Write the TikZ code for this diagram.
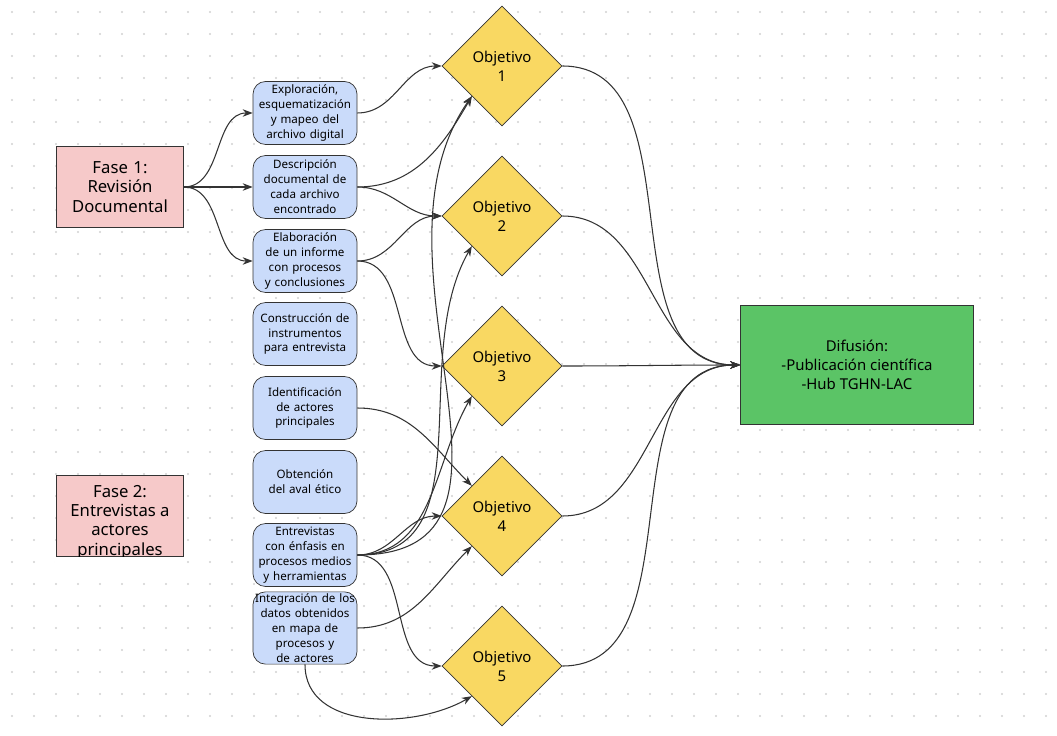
\documentclass[tikz,border=0pt]{standalone}
\usepackage{fontspec}
\setmainfont{Noto Sans}
\usetikzlibrary{shapes.geometric, arrows.meta, positioning}
\definecolor{faseRed}{HTML}{F6C9C9}
\definecolor{pasoBlue}{HTML}{CADBFA}
\definecolor{objYellow}{HTML}{F9D862}
\definecolor{difGreen}{HTML}{5BC466}
\definecolor{lineGray}{HTML}{333333}
\tikzset{
    fase/.style={rectangle, draw=lineGray, fill=faseRed, minimum width=2.44cm, minimum height=1.62cm, align=center, font=\fontsize{9.5}{11}\selectfont, text width=2.3cm},
    paso/.style={rectangle, rounded corners=0.25cm, draw=lineGray, fill=pasoBlue, minimum width=2.08cm, minimum height=1.26cm, align=center, font=\fontsize{6.6}{8.5}\selectfont, text width=2cm, inner sep=1pt},
    objetivo/.style={diamond, draw=lineGray, fill=objYellow, minimum width=2.4cm, minimum height=2.4cm, inner sep=0pt, align=center, font=\fontsize{8.5}{10.8}\selectfont},
    difusion/.style={rectangle, draw=lineGray, fill=difGreen, minimum width=4.66cm, minimum height=2.38cm, align=center, font=\fontsize{8.5}{10.8}\selectfont},
    arrow/.style={-Stealth, lineGray, line width=0.6pt},
    line/.style={lineGray, line width=0.6pt}
}
\begin{document}
\begin{tikzpicture}[x=0.02cm, y=-0.02cm]
    \useasboundingbox (0,0) rectangle (1057,736);
    % dotted grid
    \foreach \i in {0,...,47} {
        \foreach \j in {0,...,33} {
            \fill[black!18] (\i*22+12,\j*22+12) circle (0.6pt);
        }
    }

    % phases
    \node[fase] (fase1) at (120,187) {Fase 1: Revisión Documental};
    \node[fase, minimum height=1.62cm, anchor=north] (fase2) at (120,475) {};
    \node[font=\fontsize{9.5}{11}\selectfont, align=center, anchor=north] (fase2text) at (120,479) {Fase 2:\\Entrevistas a\\actores\\principales};
    \fill[white] (55,557) rectangle (185,575);

    % steps
    \node[paso] (explora) at (305,113) {Exploración, esquematización y mapeo del archivo digital};
    \node[paso] (describe) at (305,187) {Descripción documental de cada archivo encontrado};
    \node[paso] (elabora) at (305,261) {Elaboración de un informe con procesos y conclusiones};
    \node[paso] (construye) at (305,334) {Construcción de instrumentos para entrevista};
    \node[paso] (identifica) at (305,408) {Identificación de actores principales};
    \node[paso] (aval) at (305,482) {Obtención del aval ético};
    \node[paso] (entrevista) at (305,555) {Entrevistas con énfasis en procesos medios y herramientas};
    \node[paso] (integra) at (305,628) {Integración de los datos obtenidos en mapa de procesos y de actores};

    % objectives
    \node[objetivo] (obj1) at (502,66) {Objetivo\\1};
    \node[objetivo] (obj2) at (502,216) {Objetivo\\2};
    \node[objetivo] (obj3) at (502,366) {Objetivo\\3};
    \node[objetivo] (obj4) at (502,516) {Objetivo\\4};
    \node[objetivo] (obj5) at (502,666) {Objetivo\\5};

    % dissemination
    \node[difusion] (difusion) at (857,365) {Difusión:\\-Publicación científica\\-Hub TGHN-LAC};

    % Arrows
    \foreach \p in {explora, describe, elabora}
        \draw[arrow] (fase1.east) to[out=0, in=180] (\p.west);

    \draw[arrow] (explora.east) to[out=0, in=180] (obj1.west);
    \draw[arrow] (describe.east) to[out=0, in=-120] (obj1.south west);
    \draw[arrow] (describe.east) to[out=0, in=180] (obj2.west);
    \draw[arrow] (elabora.east) to[out=0, in=180] (obj2.west);
    \draw[arrow] (elabora.east) to[out=0, in=180] (obj3.west);
    \draw[arrow] (identifica.east) to[out=0, in=135] (obj4.north west);
    \draw[arrow] (entrevista.east) to[out=0, in=-125, looseness=1.1] (obj1.south west);
    \draw[arrow] (entrevista.east) to[out=0, in=-120] (obj2.south west);
    \draw[arrow] (entrevista.east) to[out=0, in=-120] (obj3.south west);
    \draw[arrow] (entrevista.east) to[out=0, in=180] (obj4.west);
    \draw[arrow] (entrevista.east) to[out=0, in=180] (obj5.west);
    \draw[arrow] (integra.east) to[out=0, in=-135] (obj4.south west);
    \draw[arrow] (integra.south) to[out=-90, in=-150] (obj5.south west);

    \foreach \o in {obj1, obj2, obj3, obj4, obj5}
        \draw[arrow] (\o.east) to[out=0, in=180] (difusion.west);
\end{tikzpicture}
\end{document}
